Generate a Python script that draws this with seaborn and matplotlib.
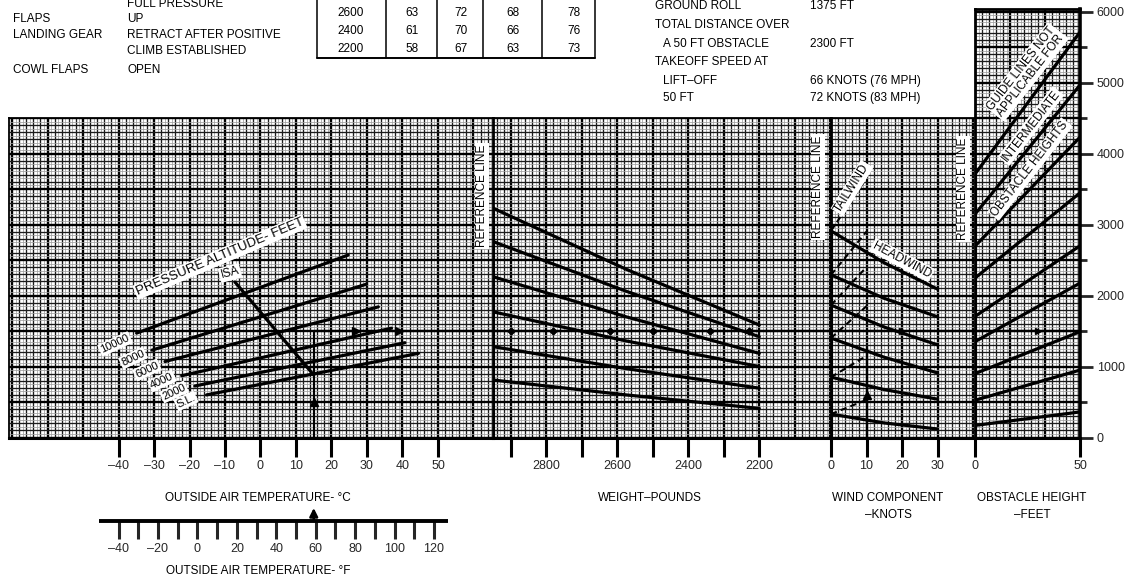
import numpy as np
import pandas as pd
import matplotlib
matplotlib.use("Agg")
import matplotlib.pyplot as plt
import seaborn as sns
from matplotlib.transforms import offset_copy

# ---- chart values ----
alt_names = ["10000", "8000", "6000", "4000", "2000", "S.L."]
alt_temp_start = [-34.9, -30.6, -26.9, -22.2, -18.5, -15.2]
alt_temp_end = [24.7, 29.9, 33.2, 36.9, 40.7, 44.5]
alt_dist_start = [1470, 1230, 1070, 870, 725, 600]
alt_dist_end = [2570, 2160, 1840, 1540, 1335, 1185]

isa_temp = [-7.2, 15]
isa_dist = [2190, 880]

weight_pts = [2950, 2575, 2200]
weight_curves = [
    [3230, 2370, 1585],
    [2760, 2060, 1420],
    [2265, 1700, 1185],
    [1770, 1360, 1000],
    [1280, 970, 695],
    [810, 600, 410],
]

wind_pts = [0, 15, 30]
headwind_curves = [
    [2910, 2460, 2090],
    [2290, 1960, 1700],
    [1865, 1555, 1305],
    [1400, 1130, 910],
    [850, 675, 540],
    [330, 205, 120],
]
tail_pts = [0, 10]
tailwind_curves = [
    [2910, 3650],
    [2290, 2900],
    [1865, 2400],
    [1400, 1850],
    [850, 1150],
    [330, 530],
]

obst_pts = [0, 50]
obstacle_curves = [
    [3710, 5710],
    [3145, 4965],
    [2695, 4230],
    [2245, 3445],
    [1705, 2700],
    [1350, 2175],
    [900, 1490],
    [525, 950],
    [170, 360],
]

# worked example guide
ex_temp = 15
ex_dist = 1500
ex_temp_arrows = [27, 39]
ex_weight_marks = [2900, 2780, 2620, 2500, 2340, 2230]
ex_wind = 10
ex_wind_top = 1260

temp_ticks = [-40, -30, -20, -10, 0, 10, 20, 30, 40, 50]
temp_labels = ["–40", "–30", "–20", "–10", "0", "10", "20", "30", "40", "50"]
degf_ticks = [-40, -20, 0, 20, 40, 60, 80, 100, 120]
degf_labels = ["–40", "–20", "0", "20", "40", "60", "80", "100", "120"]
degf_minor = [-30, -10, 10, 30, 50, 70, 90, 110]
weight_ticks = [2900, 2800, 2700, 2600, 2500, 2400, 2300, 2200]
weight_labels = ["", "2800", "", "2600", "", "2400", "", "2200"]
wind_ticks = [0, 10, 20, 30]
obst_ticks = [0, 50]
dist_ticks = [0, 1000, 2000, 3000, 4000, 5000, 6000]

tab_weight = ["2600", "2400", "2200"]
lift_kts = [63, 61, 58]
lift_mph = [72, 70, 67]
obs_kts = [68, 66, 63]
obs_mph = [78, 76, 73]

# ---- layout ----
sns.set_theme(style="white")
plt.rcParams["font.family"] = ["Liberation Sans", "DejaVu Sans"]

W, H = 1135, 578
Y0 = 437.5       # pixel row of 0 ft
PPF = 0.071      # pixels per foot
fig = plt.figure(figsize=(W / 100, H / 100), dpi=100)
fig.patch.set_facecolor("white")


def add_panel(left, right, top_ft):
    ax = fig.add_axes([left / W, (H - Y0) / H, (right - left) / W, top_ft * PPF / H])
    ax.set_ylim(0, top_ft)
    ax.set_facecolor("white")
    return ax


def paper(ax, lo, hi, cell, major, top):
    half = cell / 2
    xs = np.arange(np.ceil(lo / half) * half, hi + 1e-9, half)
    k = np.round(xs / half).astype(int)
    is_major = np.isclose(xs / major, np.round(xs / major), atol=1e-6)
    ax.vlines(xs[(k % 2 == 1)], 0, top, color="#a0a0a0", lw=0.55, zorder=1)
    ax.vlines(xs[(k % 2 == 0) & ~is_major], 0, top, color="#1c1c1c", lw=0.95, zorder=1)
    ax.vlines(xs[is_major], 0, top, color="black", lw=1.7, zorder=1)
    ys = np.arange(0, top + 1e-9, 50)
    ax.hlines(ys[ys % 100 == 50], lo, hi, color="#a0a0a0", lw=0.55, zorder=1)
    ax.hlines(ys[(ys % 100 == 0) & (ys % 500 != 0)], lo, hi, color="#1c1c1c", lw=0.95, zorder=1)
    ax.hlines(ys[ys % 500 == 0], lo, hi, color="black", lw=1.7, zorder=1)


def style(ax, ticks, labels):
    ax.set_xticks(ticks)
    ax.set_xticklabels(labels)
    ax.set_yticks([])
    ax.set_xlabel("")
    ax.set_ylabel("")
    ax.tick_params(axis="x", which="both", direction="out", length=13.5, width=2.2,
                   color="black", labelsize=9, pad=3, bottom=True)
    for s in ax.spines.values():
        s.set_color("black")
        s.set_linewidth(1.3)
    ax.spines["bottom"].set_linewidth(2.2)


def curves(ax, xs, ys_list, name, lw=2.3, ls="-"):
    rows = []
    for i, ys in enumerate(ys_list):
        for x, y in zip(xs, ys):
            rows.append({"curve": i, name: x, "dist": y})
    df = pd.DataFrame(rows)
    sns.lineplot(data=df, x=name, y="dist", units="curve", estimator=None, color="black",
                 linewidth=lw, linestyle=ls, ax=ax, legend=False, zorder=4)


def ftext(px, py, s, **kw):
    kw.setdefault("fontsize", 8.5)
    kw.setdefault("ha", "center")
    kw.setdefault("va", "center")
    fig.text(px / W, 1 - py / H, s, color="black", **kw)


white = dict(boxstyle="square,pad=0.12", fc="white", ec="none")

# temperature panel
ax_t = add_panel(9, 493, 4500)
t_lo, t_hi = -70.85, 65.5
ax_t.set_xlim(t_lo, t_hi)
paper(ax_t, t_lo, t_hi, 2, 10, 4500)
alt_rows = []
for n, t0, t1, d0, d1 in zip(alt_names, alt_temp_start, alt_temp_end, alt_dist_start, alt_dist_end):
    alt_rows += [{"alt": n, "temp": t0, "dist": d0}, {"alt": n, "temp": t1, "dist": d1}]
sns.lineplot(data=pd.DataFrame(alt_rows), x="temp", y="dist", units="alt", estimator=None,
             color="black", linewidth=2.3, ax=ax_t, legend=False, zorder=4)
sns.lineplot(x=isa_temp, y=isa_dist, color="black", linewidth=2.3, ax=ax_t, zorder=4)
ax_t.plot([ex_temp, ex_temp], [0, ex_dist], color="black", lw=1.6, zorder=5)
ax_t.plot([ex_temp], [500], marker="^", color="black", ms=6, zorder=5)
ax_t.plot([ex_temp, t_hi], [ex_dist, ex_dist], color="black", lw=1.6, zorder=5)
ax_t.plot(ex_temp_arrows, [ex_dist] * len(ex_temp_arrows), ls="none", marker=">",
          color="black", ms=6, zorder=5)
style(ax_t, temp_ticks, temp_labels)
ax_t.spines["right"].set_visible(False)

# weight panel
ax_w = add_panel(493, 831, 4500)
w_lo, w_hi = 1998, 2950
ax_w.set_xlim(w_hi, w_lo)
paper(ax_w, w_lo, w_hi, 20, 100, 4500)
curves(ax_w, weight_pts, weight_curves, "weight")
ax_w.plot([weight_pts[0], weight_pts[0]], [0, weight_curves[0][0]], color="black", lw=3, zorder=5)
ax_w.plot([w_hi, w_lo], [ex_dist, ex_dist], color="black", lw=1.6, zorder=5)
ax_w.plot(ex_weight_marks, [ex_dist] * len(ex_weight_marks), ls="none", marker="D",
          color="black", ms=3.5, zorder=5)
style(ax_w, weight_ticks, weight_labels)
ax_w.spines["right"].set_visible(False)
ax_w.spines["left"].set_linewidth(2)

# wind panel
ax_k = add_panel(831, 975, 4500)
k_hi = 40.56
ax_k.set_xlim(0, k_hi)
paper(ax_k, 0, k_hi, 2, 10, 4500)
curves(ax_k, wind_pts, headwind_curves, "wind")
curves(ax_k, tail_pts, tailwind_curves, "wind", lw=1.5, ls=(0, (3, 2)))
ax_k.plot([0, 0], [0, headwind_curves[0][0]], color="black", lw=3, zorder=5)
ax_k.plot([0, k_hi], [ex_dist, ex_dist], color="black", lw=1.6, zorder=5)
ax_k.plot([ex_wind, ex_wind], [0, ex_wind_top], color="black", lw=1.6, zorder=5)
ax_k.plot([ex_wind], [600], marker="^", color="black", ms=6, zorder=5)
ax_k.plot([20], [ex_dist], marker=">", color="black", ms=5, zorder=5)
style(ax_k, wind_ticks, [str(v) for v in wind_ticks])
ax_k.spines["right"].set_visible(False)
ax_k.spines["left"].set_linewidth(2)

# obstacle panel
ax_o = add_panel(975, 1080, 6030)
ax_o.set_xlim(0, 50)
paper(ax_o, 0, 50, 50 / 15, 50 / 3, 6030)
curves(ax_o, obst_pts, obstacle_curves, "obst")
ax_o.plot([0, 0], [0, obstacle_curves[0][0]], color="black", lw=3, zorder=5)
ax_o.plot([0, 50], [ex_dist, ex_dist], color="black", lw=1.6, zorder=5)
ax_o.plot([30], [ex_dist], marker=">", color="black", ms=5, zorder=5)
style(ax_o, obst_ticks, [str(v) for v in obst_ticks])
ax_o.spines["left"].set_linewidth(2)
ax_o.spines["right"].set_linewidth(2.6)
ax_o.spines["top"].set_linewidth(2)
ax_o.yaxis.tick_right()
ax_o.set_yticks(dist_ticks)
ax_o.set_yticklabels([str(v) for v in dist_ticks])
ax_o.set_yticks(np.arange(500, 6000, 1000), minor=True)
ax_o.tick_params(axis="y", which="major", direction="out", length=9, width=2,
                 labelsize=9, pad=3, right=True, left=False, labelright=True, labelleft=False)
ax_o.tick_params(axis="y", which="minor", direction="out", length=5, width=2,
                 right=True, left=False)

# Fahrenheit scale
ax_f = fig.add_axes([9 / W, (H - 521) / H, 484 / W, 0.0001])
ax_f.set_xlim(t_lo * 1.8 + 32, t_hi * 1.8 + 32)
ax_f.set_ylim(0, 1)
for s in ax_f.spines.values():
    s.set_visible(False)
ax_f.set_facecolor("none")
ax_f.set_yticks([])
ax_f.set_xticks(degf_ticks)
ax_f.set_xticklabels(degf_labels)
ax_f.set_xticks(degf_minor, minor=True)
ax_f.tick_params(axis="x", which="both", direction="out", length=13, width=2.2,
                 labelsize=9, pad=3, bottom=True)
ax_f.plot([-50, 127], [0, 0], color="black", lw=2.8, clip_on=False, solid_capstyle="butt")
ax_f.annotate("", xy=(ex_temp * 1.8 + 32, 0),
              xycoords=offset_copy(ax_f.transData, fig=fig, y=13, units="dots"),
              xytext=(ex_temp * 1.8 + 32, 0), textcoords="data",
              arrowprops=dict(arrowstyle="-|>", color="black", lw=1.8, mutation_scale=12,
                              shrinkA=0, shrinkB=0))

# in-chart labels
ftext(220, 257, "PRESSURE ALTITUDE- FEET", fontsize=9.5, rotation=23, bbox=white)
ftext(230, 273, "ISA", fontsize=8.5, rotation=15, bbox=white)
for name, (px, py) in zip(alt_names, [(115, 344), (133, 358), (147, 370), (162, 381), (174, 392), (186, 401)]):
    ftext(px, py, name, fontsize=8, rotation=25, bbox=white)
ftext(482, 196, "REFERENCE LINE", fontsize=8.5, rotation=90, bbox=white)
ftext(818, 187, "REFERENCE LINE", fontsize=8.5, rotation=90, bbox=white)
ftext(963, 189, "REFERENCE LINE", fontsize=8.5, rotation=90, bbox=white)
ftext(852, 188, "TAILWIND", fontsize=8.5, rotation=58, bbox=white)
ftext(902, 260, "HEADWIND", fontsize=8.5, rotation=-28, bbox=white)
ftext(1026, 72, "GUIDE LINES NOT\nAPPLICABLE FOR", fontsize=8.5, rotation=52,
      linespacing=1.0, bbox=white)
ftext(1031, 126, "INTERMEDIATE", fontsize=8.5, rotation=52, bbox=white)
ftext(1030, 169, "OBSTACLE HEIGHTS", fontsize=8.5, rotation=52, bbox=white)

# axis titles
ftext(258, 498, "OUTSIDE AIR TEMPERATURE- °C")
ftext(258, 571, "OUTSIDE AIR TEMPERATURE- °F")
ftext(650, 498, "WEIGHT–POUNDS")
ftext(888, 498, "WIND COMPONENT")
ftext(888, 515, "–KNOTS")
ftext(1032, 498, "OBSTACLE HEIGHT")
ftext(1032, 515, "–FEET")

# header: conditions
ftext(127, 4, "FULL PRESSURE", ha="left")
for py, left, right in [(19, "FLAPS", "UP"), (35, "LANDING GEAR", "RETRACT AFTER POSITIVE"),
                        (51, "", "CLIMB ESTABLISHED"), (70, "COWL FLAPS", "OPEN")]:
    ftext(13, py, left, ha="left")
    ftext(127, py, right, ha="left")

# header: speed table
col_edges = [317, 386, 437, 483, 542, 595]
col_centers = [351, 412, 461, 513, 574]
row_y = [12.7, 30.7, 49.3]
for px in col_edges:
    fig.add_artist(plt.Line2D([px / W, px / W], [1, 1 - 57.5 / H], color="black", lw=1.1))
fig.add_artist(plt.Line2D([317 / W, 595 / W], [1 - 57.5 / H] * 2, color="black", lw=1.4))
for py, row in zip(row_y, zip(tab_weight, lift_kts, lift_mph, obs_kts, obs_mph)):
    for px, v in zip(col_centers, row):
        ftext(px, py, str(v))

# header: example
ex_rows = [(6, "GROUND ROLL", "1375 FT", 655), (25, "TOTAL DISTANCE OVER", "", 655),
           (44, "A 50 FT OBSTACLE", "2300 FT", 663), (62, "TAKEOFF SPEED AT", "", 655),
           (81, "LIFT–OFF", "66 KNOTS (76 MPH)", 663), (98, "50 FT", "72 KNOTS (83 MPH)", 663)]
for py, left, right, lx in ex_rows:
    ftext(lx, py, left, ha="left")
    ftext(810, py, right, ha="left")

fig.savefig("out.png", dpi=100, facecolor="white")
